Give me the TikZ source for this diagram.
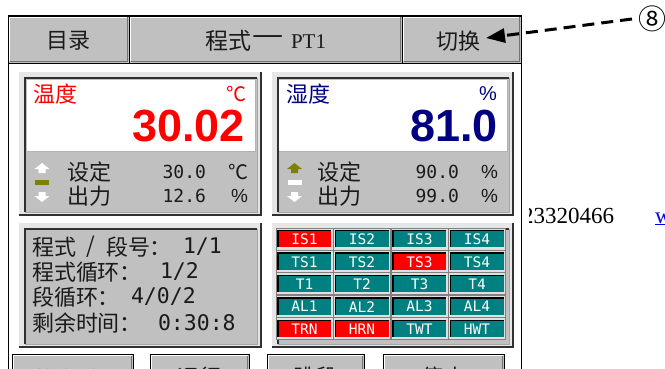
\documentclass[tikz,border=0pt]{standalone}
\usepackage{fontspec}
\setmainfont{Liberation Serif}
\newfontfamily\cjk{Noto Sans CJK SC}
\newfontfamily\monof{DejaVu Sans Mono}
\newfontfamily\numf{Liberation Sans}
\usetikzlibrary{arrows.meta}
\definecolor{btnface}{HTML}{C0C0C0}
\definecolor{lite}{HTML}{E6E6E6}
\definecolor{dk}{HTML}{303030}
\definecolor{tealc}{HTML}{008080}
\definecolor{olivec}{HTML}{808000}
\definecolor{navyc}{HTML}{000080}
\definecolor{redc}{HTML}{FF0000}
\definecolor{txt}{HTML}{1A1A1A}
\definecolor{linkc}{HTML}{0000EE}
\newcommand\rbtn[4]{%
  \fill[btnface] (#1,#2) rectangle (#3,#4);
  \draw[white,line width=1.5pt] (#1+1.5,#4-1.5) -- (#1+1.5,#2+1.5) -- (#3-1.5,#2+1.5);
  \draw[black!55,line width=1.5pt] (#1+1.5,#4-1.5) -- (#3-1.5,#4-1.5) -- (#3-1.5,#2+1.5);
  \draw[black,line width=0.9pt] (#1,#2) rectangle (#3,#4);}
\newcommand\spanel[4]{%
  \fill[lite] (#1,#2) rectangle (#3,#4);
  \draw[dk,line width=2pt] (#1,#4-1) -- (#3-1,#4-1) -- (#3-1,#2);
  \fill[btnface] (#1+6,#2+6) rectangle (#3-5,#4-4);
  \draw[black!35,line width=1pt] (#1+6,#4-4) -- (#3-5,#4-4) -- (#3-5,#2+6);
  \draw[dk,line width=2.5pt] (#1+6,#4-4) -- (#1+6,#2+6) -- (#3-5,#2+6);}
\newcommand\uparr[3]{%
  \fill[#3] (#1-7.5,#2+6) -- (#1,#2) -- (#1+7.5,#2+6) -- (#1+3.5,#2+6) -- (#1+3.5,#2+10) -- (#1-3.5,#2+10) -- (#1-3.5,#2+6) -- cycle;}
\newcommand\dnarr[3]{%
  \fill[#3] (#1-7.5,#2+4) -- (#1,#2+10) -- (#1+7.5,#2+4) -- (#1+3.5,#2+4) -- (#1+3.5,#2) -- (#1-3.5,#2) -- (#1-3.5,#2+4) -- cycle;}
\tikzset{
  lbl/.style={inner sep=0pt, outer sep=0pt},
  cjkl/.style={lbl, font=\cjk\fontsize{22}{22}\selectfont},
  monol/.style={lbl, font=\monof\fontsize{18}{18}\selectfont, text=txt},
  pctl/.style={lbl, font=\numf\fontsize{19}{19}\selectfont, text=txt},
  infol/.style={lbl, font=\cjk\fontsize{22}{22}\selectfont, text=txt},
  infon/.style={lbl, font=\monof\fontsize{21.5}{21.5}\selectfont, text=txt},
  bignum/.style={lbl, font=\numf\bfseries\fontsize{45}{45}\selectfont},
  celltxt/.style={lbl, font=\monof\fontsize{14.5}{14.5}\selectfont, text=white},
  callout/.style={line width=3pt, dash pattern=on 12pt off 7pt, -{Triangle[length=19pt,width=14pt]}},
}
\begin{document}
\begin{tikzpicture}[x=1pt,y=-1pt]
\useasboundingbox (0,0) rectangle (665,369);
\clip (0,0) rectangle (665,369);
\fill[white] (0,0) rectangle (665,369);

% stray page text behind the screenshot
\node[lbl, anchor=base west, font=\fontsize{23}{23}\selectfont] (phone) at (522,223) {23320466};
\node[lbl, anchor=base west, font=\fontsize{23}{23}\selectfont, text=linkc] (link) at (655,223) {\underline{w}};
\fill[white] (509,198) rectangle (528.5,230);

% screen frame
\draw[black,line width=1pt] (8,400) -- (8,16) -- (521,16) -- (521,400);

% top bar
\rbtn{8}{16}{129}{63}
\rbtn{129}{16}{402}{63}
\rbtn{402}{16}{521}{63}
\node[cjkl, text=txt] (menu) at (68.5,41) {目录};
\node[lbl, anchor=west, font=\cjk\fontsize{23}{23}\selectfont, text=txt] (prog) at (205,41) {程式};
\node[lbl, font=\cjk\fontsize{23}{23}\selectfont, text=txt, xscale=1.35] (dashc) at (268,41) {一};
\node[lbl, anchor=west, font=\fontsize{21}{21}\selectfont, text=txt] (pt) at (291,41.5) {PT1};
\node[cjkl, anchor=west, text=txt] (qh) at (436,41) {切换};

% callout
\node[lbl, font=\cjk\fontsize{28}{28}\selectfont] (c8) at (652,19) {⑧};
\draw[callout] ([xshift=-6pt]c8.west) -- ([shift={(6,-3)}]qh.east);

% temperature panel
\spanel{19}{72}{262}{216}
\fill[white] (27,80) rectangle (255,151);
\draw[black!30,line width=1pt] (27,151.5) -- (255,151.5) -- (255,80);
\node[cjkl, anchor=west, text=redc] (tlab) at (34,94) {温度};
\node[lbl, anchor=east, font=\cjk\fontsize{20}{20}\selectfont, text=redc] (tunit) at (246,94) {℃};
\node[bignum, anchor=base east, text=redc] (tval) at (245,142) {30.02};
\uparr{42}{163}{white}
\fill[olivec] (35,180) rectangle (49,185);
\dnarr{42}{192}{white}
\node[cjkl, anchor=west, text=txt] (tset) at (67,172) {设定};
\node[monol, anchor=east] (tsv) at (206,172) {30.0};
\node[lbl, anchor=east, font=\cjk\fontsize{20}{20}\selectfont, text=txt] (tsu) at (248,172) {℃};
\node[cjkl, anchor=west, text=txt] (tout) at (67,196) {出力};
\node[monol, anchor=east] (tov) at (206,196) {12.6};
\node[pctl, anchor=east] (tou) at (248,196) {\%};

% humidity panel
\spanel{272}{72}{514}{216}
\fill[white] (279,80) rectangle (507,151);
\draw[black!30,line width=1pt] (279,151.5) -- (507,151.5) -- (507,80);
\node[cjkl, anchor=west, text=navyc] (hlab) at (286,94) {湿度};
\node[lbl, anchor=east, font=\numf\fontsize{20}{20}\selectfont, text=navyc] (hunit) at (497,94) {\%};
\node[bignum, anchor=base east, text=navyc] (hval) at (498,142) {81.0};
\uparr{294.5}{163}{olivec}
\fill[white] (287.5,180) rectangle (301.5,185);
\dnarr{294.5}{192}{white}
\node[cjkl, anchor=west, text=txt] (hset) at (317,172) {设定};
\node[monol, anchor=east] (hsv) at (459,172) {90.0};
\node[pctl, anchor=east] (hsu) at (498,172) {\%};
\node[cjkl, anchor=west, text=txt] (hout) at (317,196) {出力};
\node[monol, anchor=east] (hov) at (459,196) {99.0};
\node[pctl, anchor=east] (hou) at (498,196) {\%};

% program info panel
\spanel{19}{223}{262}{348}
\node[infol, anchor=west] (i1a) at (32,247) {程式};
\node[infol, anchor=west] (i1b) at (86,247) {/};
\node[infol, anchor=west] (i1c) at (106,247) {段号：};
\node[infon, anchor=west] (i1d) at (183,247) {1/1};
\node[infol, anchor=west] (i2a) at (32,272) {程式循环：};
\node[infon, anchor=west] (i2d) at (160,272) {1/2};
\node[infol, anchor=west] (i3a) at (32,297) {段循环：};
\node[infon, anchor=west] (i3d) at (131,297) {4/0/2};
\node[infol, anchor=west] (i4a) at (32,323) {剩余时间：};
\node[infon, anchor=west] (i4d) at (158,323) {0:30:8};

% status grid panel
\spanel{272}{223}{514}{348}
\foreach \lab/\col [count=\i from 0] in {IS1/redc,IS2/tealc,IS3/tealc,IS4/tealc,TS1/tealc,TS2/tealc,TS3/redc,TS4/tealc,T1/tealc,T2/tealc,T3/tealc,T4/tealc,AL1/tealc,AL2/tealc,AL3/tealc,AL4/tealc,TRN/redc,HRN/redc,TWT/tealc,HWT/tealc}{
  \pgfmathsetmacro\cx{304.5+57.5*mod(\i,4)}
  \pgfmathsetmacro\cy{239+22.4*floor(\i/4)}
  \fill[black!12] (\cx-28.5,\cy-11) rectangle (\cx+28.5,\cy+11);
  \draw[black!50,line width=0.8pt] (\cx-28.5,\cy-11) rectangle (\cx+28.5,\cy+11);
  \fill[\col] (\cx-26.5,\cy-8.3) rectangle (\cx+26.5,\cy+8.3);
  \draw[black,line width=1.4pt] (\cx-26.5,\cy+8.3) -- (\cx-26.5,\cy-8.3) -- (\cx+26.5,\cy-8.3);
  \node[celltxt] (cell\lab) at (\cx,\cy+0.5) {\lab};
}

% bottom buttons (cut off by the picture's lower edge)
\rbtn{12}{354}{133}{400}
\rbtn{150}{354}{249}{400}
\rbtn{267}{354}{364}{400}
\rbtn{383}{354}{504}{400}
\node[lbl, font=\monof\fontsize{15}{15}\selectfont, text=txt] (b1) at (71,375) {03-05-07};
\node[cjkl, text=txt] (b2) at (199,377) {运行};
\node[cjkl, text=txt] (b3) at (315,377) {跳段};
\node[cjkl, text=txt] (b4) at (443,377) {停止};
\end{tikzpicture}
\end{document}
